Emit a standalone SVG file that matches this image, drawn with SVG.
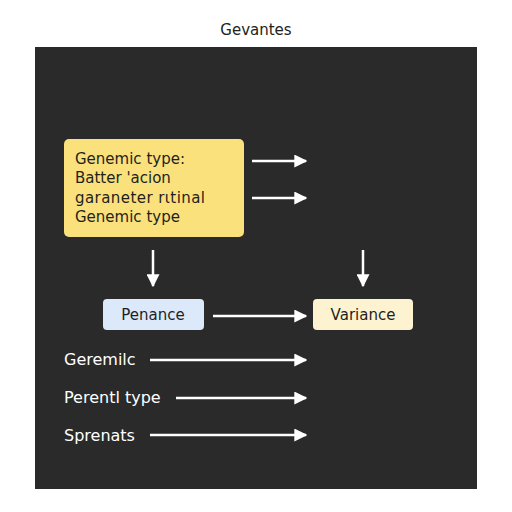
<svg xmlns="http://www.w3.org/2000/svg" width="512" height="512" viewBox="0 0 512 512">
<defs>
<marker id="ah" viewBox="0 0 10 10" refX="9" refY="5" markerWidth="5.2" markerHeight="5.2" orient="auto" markerUnits="strokeWidth">
<path d="M0,0 L10,5 L0,10 z" fill="#ffffff"/>
</marker>
<style>
.t{font-family:"DejaVu Sans","Liberation Sans",sans-serif;}
.c{stroke:#ffffff;stroke-width:2.5;fill:none;marker-end:url(#ah);}
.dark{fill:#1f1f1f;font-size:15px;}
.lbl{fill:#ffffff;font-size:16px;}
</style>
</defs>
<rect width="512" height="512" fill="#ffffff"/>
<text class="t" x="256" y="35" text-anchor="middle" font-size="15" fill="#222222">Gevantes</text>
<rect x="35" y="47" width="442" height="442" fill="#2a2a2a"/>
<g id="genemic">
<rect x="64" y="139" width="180" height="98" rx="5" fill="#fae17b"/>
<text class="t dark" x="75" y="164">Genemic type:</text>
<text class="t dark" x="75" y="183">Batter 'acion</text>
<text class="t dark" x="75" y="203" textLength="130">garaneter rιtinal</text>
<text class="t dark" x="75" y="222">Genemic type</text>
</g>
<g id="penance">
<rect x="103" y="299" width="101" height="31" rx="4" fill="#dbe9fb"/>
<text class="t dark" x="153" y="320" text-anchor="middle" font-size="15.5">Penance</text>
</g>
<g id="variance">
<rect x="313" y="299" width="100" height="31" rx="4" fill="#fdf3d0"/>
<text class="t dark" x="363" y="320" text-anchor="middle" font-size="15.5">Variance</text>
</g>
<g id="geremilc"><text class="t lbl" x="64" y="365">Geremilc</text></g>
<g id="perentl"><text class="t lbl" x="64" y="403">Perentl type</text></g>
<g id="sprenats"><text class="t lbl" x="64" y="441">Sprenats</text></g>
<g id="connectors">
<line class="c" x1="252" y1="161" x2="306" y2="161"/>
<line class="c" x1="252" y1="198" x2="306" y2="198"/>
<line class="c" x1="153" y1="250" x2="153" y2="286"/>
<line class="c" x1="363" y1="250" x2="363" y2="286"/>
<line class="c" x1="213" y1="316" x2="306" y2="316"/>
<line class="c" x1="150" y1="360" x2="306" y2="360"/>
<line class="c" x1="176" y1="398" x2="306" y2="398"/>
<line class="c" x1="150" y1="435" x2="306" y2="435"/>
</g>
</svg>
